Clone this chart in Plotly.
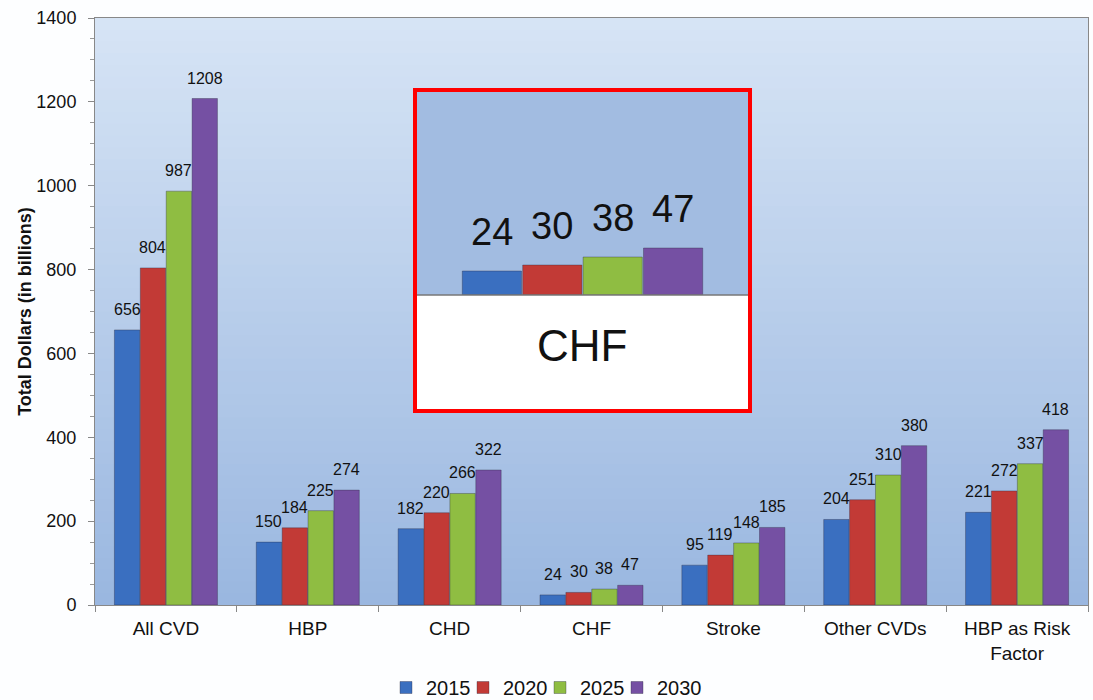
import plotly.graph_objects as go

categories = ["All CVD", "HBP", "CHD", "CHF", "Stroke", "Other CVDs", "HBP as Risk<br>Factor"]
years = ["2015", "2020", "2025", "2030"]
v2015 = [656, 150, 182, 24, 95, 204, 221]
v2020 = [804, 184, 220, 30, 119, 251, 272]
v2025 = [987, 225, 266, 38, 148, 310, 337]
v2030 = [1208, 274, 322, 47, 185, 380, 418]
series = [v2015, v2020, v2025, v2030]
colors = ["#3a6fc0", "#c23a36", "#8fbd42", "#7550a3"]
inset_cat = "CHF"

W, H = 1093, 700
L, R, T, B = 95, 5, 18, 95
PW, PH = W - L - R, H - T - B
BARGAP, GROUPGAP = 0.27, 0.02
FONT = "Liberation Sans, Arial"


def px_x(p):
    return (p - L) / PW


def px_y(p):
    return (H - B - p) / PH


INSET_X0, INSET_X1 = 417, 748
fig = go.Figure()
idx = categories.index(inset_cat)
bar_line = dict(color="rgba(40,40,60,0.35)", width=1)
for yr, vals, col in zip(years, series, colors):
    fig.add_trace(go.Bar(
        x=categories, y=vals, name=yr,
        marker=dict(color=col, line=bar_line),
        xaxis="x", yaxis="y",
    ))
for yr, vals, col in zip(years, series, colors):
    fig.add_trace(go.Bar(
        x=[inset_cat], y=[vals[idx]], name=yr, showlegend=False,
        marker=dict(color=col, line=bar_line),
        xaxis="x2", yaxis="y2",
    ))
# invisible spacer legend entry (keeps the last legend label from being clipped)
fig.add_trace(go.Scatter(x=[0], y=[0], name=" ", mode="markers",
                         marker=dict(color="rgba(0,0,0,0)", size=1),
                         hoverinfo="skip", xaxis="x3", yaxis="y3"))

annotations = []
n_series = len(series)
slot_main = PW / len(categories) * (1 - BARGAP) / n_series
slot_inset = (INSET_X1 - INSET_X0) * (1 - BARGAP) / n_series
for i, vals in enumerate(series):
    off = (i - (n_series - 1) / 2)
    for c, v in zip(categories, vals):
        annotations.append(dict(
            x=c, y=v, xref="x", yref="y", text=str(v), showarrow=False,
            xshift=off * slot_main, yanchor="bottom", yshift=10,
            font=dict(size=16, color="#111", family=FONT)))
    annotations.append(dict(
        x=inset_cat, y=vals[idx], xref="x2", yref="y2", text=str(vals[idx]), showarrow=False,
        xshift=off * slot_inset, yanchor="bottom", yshift=16,
        font=dict(size=38, color="#111", family=FONT)))
annotations.append(dict(text=inset_cat, xref="paper", yref="paper",
                        x=px_x(582), y=px_y(345), showarrow=False,
                        font=dict(size=44, color="#111", family=FONT)))

shapes = []
n = 50
top = (0xd6, 0xe4, 0xf5)
bot = (0x9a, 0xb7, 0xe0)
for i in range(n):
    t = i / (n - 1)
    c = tuple(round(top[k] + (bot[k] - top[k]) * t) for k in range(3))
    shapes.append(dict(type="rect", xref="x domain", yref="y domain",
                       x0=0, x1=1, y0=max(0, 1 - (i + 1.6) / n), y1=1 - i / n,
                       fillcolor="rgb(%d,%d,%d)" % c, line=dict(width=0), layer="below"))
shapes.append(dict(type="rect", xref="paper", yref="paper",
                   x0=px_x(INSET_X0), x1=px_x(INSET_X1), y0=px_y(295), y1=px_y(92),
                   fillcolor="#a2bce1", line=dict(width=0), layer="below"))
shapes.append(dict(type="rect", xref="paper", yref="paper",
                   x0=px_x(INSET_X0), x1=px_x(INSET_X1), y0=px_y(411), y1=px_y(295),
                   fillcolor="#ffffff", line=dict(width=0), layer="below"))
shapes.append(dict(type="line", xref="paper", yref="paper",
                   x0=px_x(INSET_X0), x1=px_x(INSET_X1), y0=px_y(295), y1=px_y(295),
                   line=dict(color="#777", width=1.5), layer="above"))
shapes.append(dict(type="rect", xref="paper", yref="paper",
                   x0=px_x(415), x1=px_x(750), y0=px_y(411), y1=px_y(90),
                   line=dict(color="#ff0000", width=4), layer="above"))

fig.update_layout(
    width=W, height=H,
    margin=dict(l=L, r=R, t=T, b=B, autoexpand=False),
    paper_bgcolor="#fdfeff", plot_bgcolor="rgba(0,0,0,0)",
    barmode="group", bargap=BARGAP, bargroupgap=GROUPGAP,
    font=dict(family=FONT, color="#111"),
    shapes=shapes, annotations=annotations,
    xaxis=dict(domain=[0, 1], tickson="boundaries", ticks="outside", ticklen=6,
               tickcolor="#888", showline=True, linecolor="#888", mirror=True,
               tickfont=dict(size=19), ticklabelstandoff=6, showgrid=False),
    yaxis=dict(domain=[0, 1], range=[0, 1400], dtick=200, ticks="outside", ticklen=6,
               tickcolor="#888", showline=True, linecolor="#888", mirror=True,
               tickfont=dict(size=18), ticklabelstandoff=8, showgrid=False, zeroline=False,
               minor=dict(dtick=50, ticks="outside", ticklen=4, tickcolor="#999"),
               title=dict(text="<b>Total Dollars (in billions)</b>", font=dict(size=18), standoff=0)),
    xaxis2=dict(domain=[px_x(INSET_X0), px_x(INSET_X1)], anchor="y2", showticklabels=False,
                showgrid=False, showline=False, ticks="", range=[-0.5, 0.5]),
    yaxis2=dict(domain=[px_y(295), px_y(92)], anchor="x2", range=[0, 203],
                visible=False, showgrid=False, zeroline=False),
    xaxis3=dict(domain=[0.98, 1], anchor="y3", visible=False, range=[1, 2]),
    yaxis3=dict(domain=[0.98, 1], anchor="x3", visible=False, range=[1, 2]),
    legend=dict(orientation="h", x=px_x(386), xanchor="left", y=px_y(707), yanchor="bottom",
                font=dict(size=20), itemwidth=30, entrywidth=32, traceorder="normal",
                bgcolor="rgba(0,0,0,0)"),
)

fig.write_html("out.html")
